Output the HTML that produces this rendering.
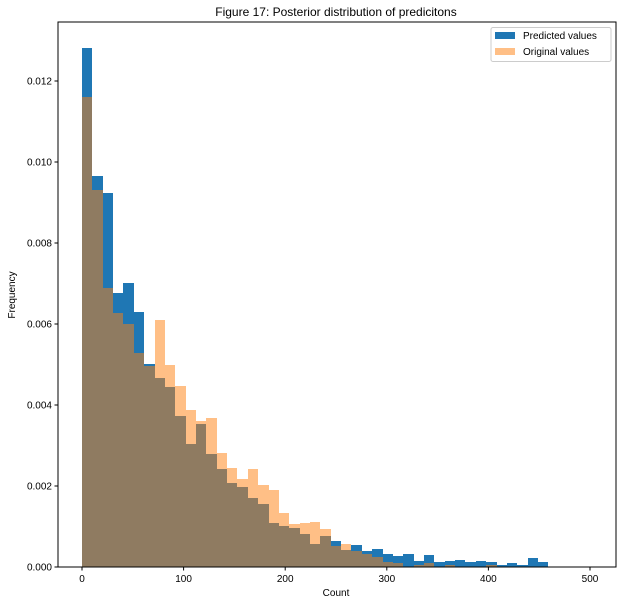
<!DOCTYPE html>
<html><head><meta charset="utf-8"><style>
body{margin:0;background:#fff;font-family:"Liberation Sans",sans-serif}
svg text{font-family:"Liberation Sans","DejaVu Sans",sans-serif;fill:#000}
</style></head><body>
<svg id="chart" width="622" height="604" xmlns="http://www.w3.org/2000/svg">
<text x="336" y="16" font-size="12" text-anchor="middle">Figure 17: Posterior distribution of predicitons</text>
<g id="bars" shape-rendering="crispEdges"></g>
<g id="axes"></g>
<text x="336" y="596" font-size="10" text-anchor="middle">Count</text>
<text transform="translate(15,295) rotate(-90)" font-size="10" text-anchor="middle">Frequency</text>
<g>
<rect x="491" y="27.5" width="120" height="34" rx="2" fill="#fff" fill-opacity="0.8" stroke="#ccc" stroke-width="1"/>
<rect x="495" y="32" width="20" height="7" fill="#1f77b4"/>
<text x="523" y="39" font-size="10">Predicted values</text>
<rect x="495" y="48" width="20" height="7" fill="#ff7f0e" fill-opacity="0.5"/>
<text x="523" y="55" font-size="10">Original values</text>
</g>
</svg>
<script>
const binWidth = 10.2;
const predicted = [0.01281,0.00965,0.00923,0.00677,0.00701,0.0063,0.00501,0.00467,0.00444,0.00373,0.00304,0.00353,0.00279,0.00242,0.00207,0.00198,0.0017,0.00156,0.00109,0.00101,0.00096,0.00081,0.00057,0.00077,0.00064,0.00042,0.00054,0.0004,0.00044,0.00032,0.00027,0.00032,0.00015,0.0003,0.00012,0.00015,0.00017,0.00012,0.00015,0.00012,0.00005,0.0001,0.00005,0.00022,0.00012];
const original = [0.0116,0.0093,0.00689,0.00627,0.006,0.00528,0.00496,0.0061,0.00499,0.00447,0.00388,0.0036,0.00368,0.00281,0.00244,0.00217,0.00242,0.00202,0.0019,0.00133,0.00106,0.00109,0.00111,0.00094,0.00052,0.00057,0.0004,0.00032,0.00025,0.00012,0.0001,0,0.00005,0.0001,0,0.00005,0,0,0,0.00005];
const xTicks = [0,100,200,300,400,500];
const yTicks = [0,0.002,0.004,0.006,0.008,0.010,0.012];
const yTickLabels = ["0.000","0.002","0.004","0.006","0.008","0.010","0.012"];

const L=58,R=616,T=22,B=567;
const xs = v => 82 + v*1.016;
const ys = v => B - v*40500;
const NS="http://www.w3.org/2000/svg";
const bars=document.getElementById('bars'), axes=document.getElementById('axes');
function mk(tag,attrs,parent){const e=document.createElementNS(NS,tag);for(const k in attrs)e.setAttribute(k,attrs[k]);parent.appendChild(e);return e;}
function barGeom(i,v){
  const x0=Math.round(xs(i*binWidth)), x1=Math.round(xs((i+1)*binWidth)), y=Math.round(ys(v));
  return {x:x0,y:y,width:x1-x0,height:B-y};
}
predicted.forEach((v,i)=>{
  const g=barGeom(i,v);
  const r=mk('rect',{x:g.x,y:g.y,width:g.width,height:g.height,fill:'#1f77b4'},bars);
  
  
});
original.forEach((v,i)=>{
  const g=barGeom(i,v);
  const r=mk('rect',{x:g.x,y:g.y,width:g.width,height:g.height,fill:'#ff7f0e','fill-opacity':0.5},bars);
  
  
});
mk('rect',{x:L,y:T,width:R-L,height:B-T,fill:'none',stroke:'#000','stroke-width':1},axes);
xTicks.forEach(t=>{
  const x=xs(t);
  mk('line',{x1:x,x2:x,y1:B,y2:B+3.5,stroke:'#000'},axes);
  const tx=mk('text',{x:x,y:B+15,'font-size':10,'text-anchor':'middle'},axes);
  tx.textContent=t;
  
  
});
yTicks.forEach((t,i)=>{
  const y=ys(t);
  mk('line',{x1:L-3.5,x2:L,y1:y,y2:y,stroke:'#000'},axes);
  const tx=mk('text',{x:L-6,y:y+3.5,'font-size':10,'text-anchor':'end'},axes);
  tx.textContent=yTickLabels[i];
  
  
});
</script>
</body></html>
